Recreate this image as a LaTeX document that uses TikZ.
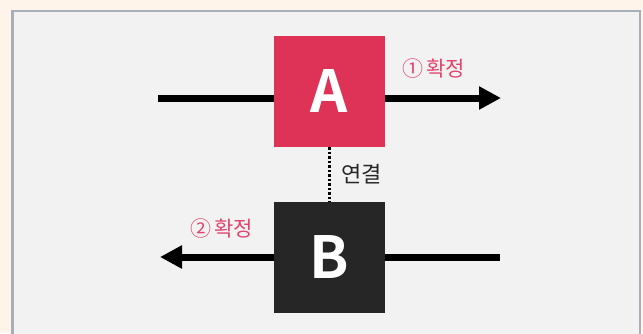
\documentclass[tikz,border=0pt]{standalone}
\usepackage{fontspec}
\setmainfont{Noto Sans CJK KR}[BoldFont={Noto Sans CJK KR Bold}]
\usetikzlibrary{arrows.meta,positioning}
\definecolor{cream}{HTML}{FFF4EA}
\definecolor{panel}{HTML}{F2F2F2}
\definecolor{frame}{HTML}{A9AFBA}
\definecolor{crimson}{HTML}{DE3356}
\definecolor{coal}{HTML}{262626}
\definecolor{tagred}{HTML}{E2446E}
\tikzset{
>={Triangle[length=22pt,width=22pt]},
box/.style={rectangle,minimum width=111pt,minimum height=111pt,inner sep=0pt,text=white,font=\fontsize{58}{58}\selectfont\bfseries},
flow/.style={line width=7pt},
tag/.style={text=tagred,inner sep=0pt,font=\fontsize{21}{21}\selectfont},
link/.style={line width=2.5pt,dash pattern=on 2.5pt off 2pt,text=coal}
}

\begin{document}
\begin{tikzpicture}[x=1pt,y=-1pt]
\useasboundingbox (0,0) rectangle (643,333);
\clip (0,0) rectangle (643,333);
\fill[cream] (0,0) rectangle (643,333);
\draw[frame,fill=panel,line width=2.5pt] (12.5,11) rectangle (640,350);

\node[box,fill=crimson] (A) at (329.5,91.5) {A};
\node[box,fill=coal] (B) at (329.5,257.5) {B};

\coordinate (ain) at (158,98);
\coordinate (aout) at (501,98);
\coordinate (bin) at (500,257);
\coordinate (bout) at (160,257);

\draw[flow] (ain) -- (ain -| A.west);
\draw[flow,->] (aout -| A.east) -- (aout);
\draw[flow] (bin) -- (bin -| B.east);
\draw[flow,->] (bout -| B.west) -- (bout);

\draw[link] (A.south) -- node[right=11pt,inner sep=0pt,font=\fontsize{22}{22}\selectfont] (join) {연결} (B.north);

\node[tag] (fix1) at (434,69) {①\hspace{3pt}확정};
\node[tag] (fix2) at (221.5,229) {②\hspace{3pt}확정};
\end{tikzpicture}
\end{document}
